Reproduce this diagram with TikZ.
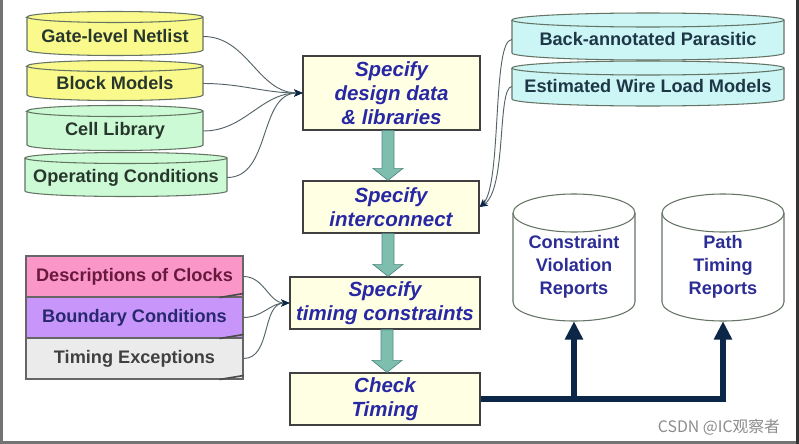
\documentclass[tikz,border=0pt]{standalone}
\usepackage{fontspec}
\setmainfont{Liberation Sans}
\newfontfamily\cjkfont{Noto Sans CJK SC}
\usetikzlibrary{arrows.meta,calc}

\definecolor{cylY}{RGB}{250,250,140}
\definecolor{cylG}{RGB}{204,250,212}
\definecolor{cylC}{RGB}{204,245,245}
\definecolor{boxY}{RGB}{255,255,228}
\definecolor{procblue}{RGB}{40,40,165}
\definecolor{navy}{RGB}{12,38,72}
\definecolor{teal1}{RGB}{125,190,175}
\definecolor{teal2}{RGB}{80,140,130}
\definecolor{pinkc}{RGB}{250,150,200}
\definecolor{purplec}{RGB}{200,150,250}
\definecolor{grayc}{RGB}{235,235,235}
\definecolor{connc}{RGB}{85,100,105}
\definecolor{cyledge}{RGB}{100,115,100}
\definecolor{txtdark}{RGB}{40,55,45}
\definecolor{txtcyan}{RGB}{30,55,70}
\definecolor{txtmaroon}{RGB}{105,25,60}
\definecolor{txtnavy}{RGB}{40,40,110}
\definecolor{repblue}{RGB}{45,45,150}

\tikzset{
  cylline/.style={draw=cyledge, line width=0.9pt},
  cyltext/.style={font=\fontsize{15.5}{19.5}\selectfont\bfseries, inner sep=0pt, align=center},
  repfont/.style={font=\fontsize{16.5}{20}\selectfont\bfseries},
  procbox/.style={draw=black!75, line width=1.1pt, fill=boxY,
    font=\fontsize{17.5}{20.5}\selectfont\bfseries\itshape, text=procblue,
    align=center, inner sep=0pt},
  notebox/.style={draw=black!60, line width=0.9pt, minimum width=6.51cm,
    minimum height=1.23cm, inner sep=0pt,
    font=\fontsize{15.5}{18}\selectfont\bfseries},
  fold/.style={draw=black!70, line width=1.4pt},
  conn/.style={draw=connc, line width=0.8pt, -{Stealth[length=7pt,width=6pt,color=navy]}},
  blockarr/.style={fill=teal1, draw=teal2, line width=0.6pt},
  navyarrow/.style={draw=navy, line width=5pt, -{Triangle[width=0.52cm,length=0.55cm]}},
}

% name, x1, x2, ytop, ybot, ry, style (fill, text), text dy, text
\newcommand{\dbcyl}[9]{%
  \pgfmathsetmacro\myrx{(#3-#2)/2*0.03}%
  \pgfmathsetmacro\myry{#6*0.03}%
  \begin{scope}[#7]
  \filldraw[cylline] (#2,#4) -- (#2,#5)
    arc[start angle=180, end angle=360, x radius=\myrx cm, y radius=\myry cm]
    -- (#3,#4)
    arc[start angle=0, end angle=180, x radius=\myrx cm, y radius=\myry cm] -- cycle;
  \draw[cylline] (#2,#4)
    arc[start angle=180, end angle=360, x radius=\myrx cm, y radius=\myry cm];
  \pgfmathsetmacro\mycy{(#4+#5)/2+#8}%
  \pgfmathsetmacro\mywd{(#3-#2)*0.03}%
  \pgfmathsetmacro\myht{2*(#5+#6-\mycy)*0.03}%
  \node[cyltext, minimum width=\mywd cm, minimum height=\myht cm]
    (#1) at ({(#2+#3)/2},\mycy) {#9};
  \end{scope}
}

% from, to, x
\newcommand{\blockarrow}[3]{%
  \coordinate (tmpA) at (#3,0 |- #1.south);
  \coordinate (tmpB) at (#3,0 |- #2.north);
  \filldraw[blockarr] ($(tmpA)+(-6,0)$) -- ($(tmpB)+(-6,-12)$) -- ($(tmpB)+(-15,-12)$)
    -- (tmpB) -- ($(tmpB)+(15,-12)$) -- ($(tmpB)+(6,-12)$) -- ($(tmpA)+(6,0)$) -- cycle;
}

\begin{document}
\begin{tikzpicture}[x=0.03cm, y=-0.03cm]
\useasboundingbox (0,0) rectangle (799,444);
\fill[white] (0,0) rectangle (799,444);
\fill[black!55] (0,0) rectangle (3,444);
\fill[black!55] (0,441) rectangle (799,444);
\fill[black!80] (796,0) rectangle (799,444);

% left cylinders
\dbcyl{gate}{27}{203}{17}{50}{5.5}{fill=cylY, text=txtdark}{3}{Gate-level Netlist}
\dbcyl{block}{27}{203}{66}{95}{5.5}{fill=cylY, text=txtdark}{3}{Block Models}
\dbcyl{cell}{27}{203}{111}{145}{5.5}{fill=cylG, text=txtdark}{3}{Cell Library}
\dbcyl{oper}{25}{227}{158}{191}{5.5}{fill=cylG, text=txtdark}{3}{Operating Conditions}

% right cylinders
\dbcyl{back}{512}{784}{20}{53}{7}{fill=cylC, text=txtcyan}{3}{Back-annotated Parasitic}
\dbcyl{est}{512}{784}{68}{99}{7}{fill=cylC, text=txtcyan}{3}{Estimated Wire Load Models}

% report cylinders
\dbcyl{cons}{513}{635}{213}{302}{19}{fill=white, text=repblue, repfont}{9}{Constraint\\Violation\\Reports}
\dbcyl{path}{662}{784}{213}{302}{19}{fill=white, text=repblue, repfont}{9}{Path\\Timing\\Reports}

% process boxes
\node[procbox, minimum width=5.31cm, minimum height=2.22cm] (design) at (391.5,93) {Specify\\design data\\\& libraries};
\node[procbox, minimum width=5.28cm, minimum height=1.56cm] (inter) at (391,207) {Specify\\interconnect};
\node[procbox, minimum width=5.7cm, minimum height=1.56cm] (timing) at (385,303) {Specify\\timing constraints};
\node[procbox, minimum width=5.7cm, minimum height=1.56cm] (check) at (385,399) {Check\\Timing};

% constraint boxes
\node[notebox, fill=pinkc, text=txtmaroon] (clk) at (134.5,276.5) {Descriptions of Clocks};
\node[notebox, fill=purplec, text=txtnavy] (bnd) at (134.5,317.5) {Boundary Conditions};
\node[notebox, fill=grayc, text=black!75] (exc) at (134.5,358.5) {Timing Exceptions};
\foreach \n in {clk,bnd,exc}{
  \draw[fold] ($(\n.south east)+(-24,0)$) -- ($(\n.south east)+(0,-4)$);
}

% block arrows
\blockarrow{design}{inter}{388}
\blockarrow{inter}{timing}{388}
\blockarrow{timing}{check}{387}

% thin connectors
\draw[conn] (gate.east) to[out=0, in=180] (design.west);
\draw[conn] (block.east) to[out=0, in=180] (design.west);
\draw[conn] (cell.east) to[out=0, in=180] (design.west);
\draw[conn] (oper.east) to[out=0, in=180] (design.west);

\draw[conn] (back.west) .. controls (492,40) and (502,185) .. (inter.east);
\draw[conn] (est.west) .. controls (497,88) and (507,190) .. (inter.east);

\draw[conn] (clk.east) to[out=0, in=180] (timing.west);
\draw[conn] (bnd.east) to[out=0, in=180] (timing.west);
\draw[conn] (exc.east) to[out=0, in=180] (timing.west);

% thick result arrows
\draw[navyarrow] (check.east) -| (path.south);
\draw[navyarrow] (cons.south |- check.east) -- (cons.south);

% watermark
\node[font=\cjkfont\fontsize{13.5}{16}\selectfont, text=black!45, inner sep=0pt] (wm) at (719,427) {CSDN @IC观察者};
\end{tikzpicture}
\end{document}
